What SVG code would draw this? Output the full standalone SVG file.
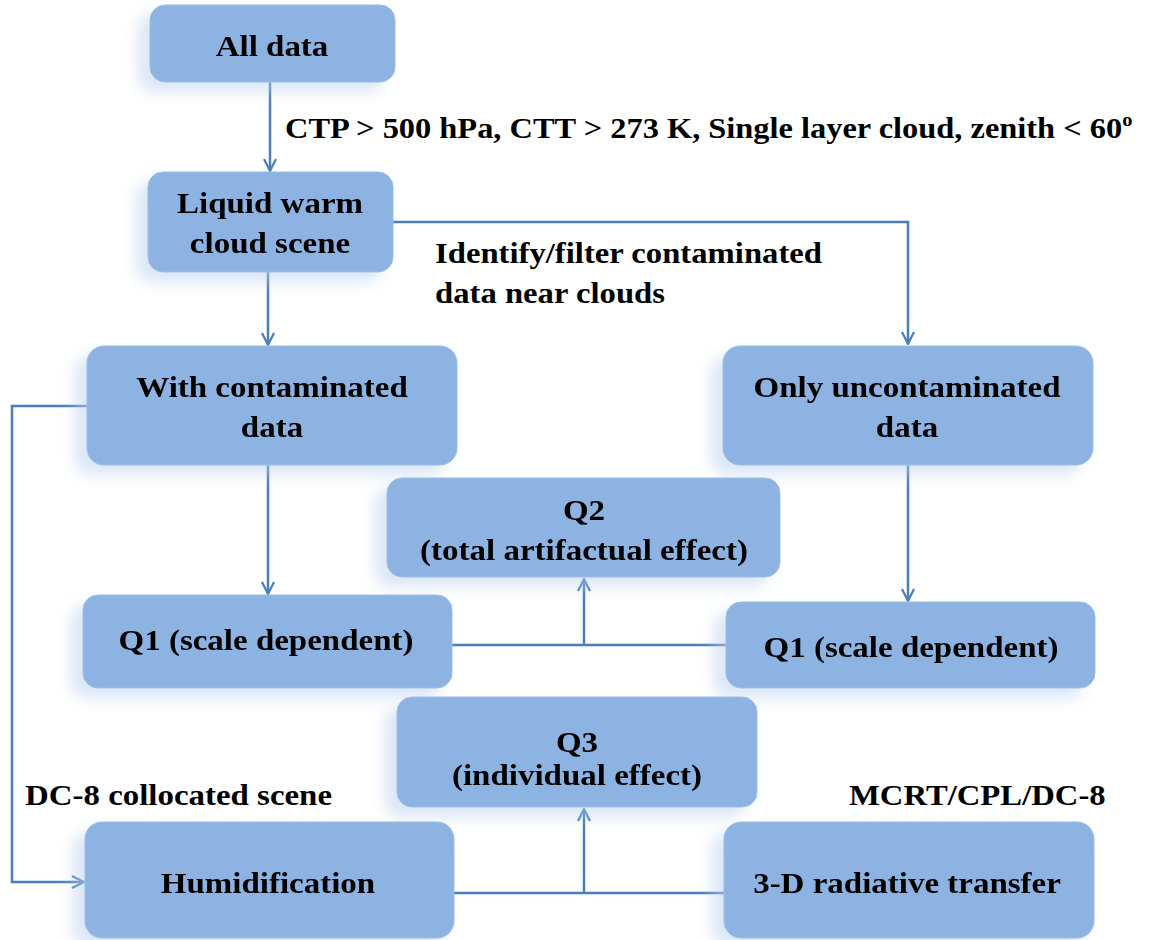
<svg xmlns="http://www.w3.org/2000/svg" width="1160" height="940" viewBox="0 0 1160 940">
<defs>
<style>
.box{fill:#8db3e2;stroke:#9bbde6;stroke-width:1}
.t{font-family:"Liberation Serif","Times New Roman",serif;font-weight:bold;font-size:30px;fill:#000;text-anchor:middle}
.l{font-family:"Liberation Serif","Times New Roman",serif;font-weight:bold;font-size:30px;fill:#000}
.c{fill:none;stroke:#4a7ebb;stroke-width:2.5}
</style>
<filter id="sh" x="-20%" y="-20%" width="140%" height="150%">
<feOffset in="SourceAlpha" dx="-12" dy="10" result="o"/>
<feGaussianBlur in="o" stdDeviation="7" result="b"/>
<feFlood flood-color="#b9cfee" flood-opacity="0.5"/>
<feComposite in2="b" operator="in" result="s"/>
<feMerge><feMergeNode in="s"/><feMergeNode in="SourceGraphic"/></feMerge>
</filter>
<marker id="ah" viewBox="0 0 14 14" refX="13" refY="7" markerWidth="14" markerHeight="14" markerUnits="userSpaceOnUse" orient="auto">
<path d="M1,1 L13,7 L1,13" fill="none" stroke="#4a7ebb" stroke-width="2.2"/>
</marker>
</defs>
<rect width="1160" height="940" fill="#fff"/>
<g id="connectors">
<line class="c" x1="270" y1="82" x2="270" y2="171" marker-end="url(#ah)"/>
<polyline class="c" points="392,222 908,222 908,344" marker-end="url(#ah)"/>
<line class="c" x1="268" y1="272" x2="268" y2="345" marker-end="url(#ah)"/>
<line class="c" x1="268" y1="465" x2="268" y2="594" marker-end="url(#ah)"/>
<line class="c" x1="908" y1="465" x2="908" y2="601" marker-end="url(#ah)"/>
<polyline class="c" points="87,406 12,406 12,882 84,882" marker-end="url(#ah)"/>
<line class="c" x1="452" y1="645" x2="726" y2="645"/>
<line class="c" x1="584" y1="645" x2="584" y2="579" marker-end="url(#ah)"/>
<line class="c" x1="454" y1="893" x2="724" y2="893"/>
<line class="c" x1="584" y1="893" x2="584" y2="809" marker-end="url(#ah)"/>
</g>
<g id="labels">
<text class="l" transform="translate(285,138) scale(1.08,1)">CTP &gt; 500 hPa, CTT &gt; 273 K, Single layer cloud, zenith &lt; 60<tspan font-size="19" dy="-12">o</tspan></text>
<text class="l" transform="translate(435,263) scale(1.09,1)">Identify/filter contaminated</text>
<text class="l" transform="translate(435,303) scale(1.09,1)">data near clouds</text>
<text class="l" x="25" y="805" textLength="307" lengthAdjust="spacingAndGlyphs">DC-8 collocated scene</text>
<text class="l" transform="translate(849,805) scale(1.09,1)">MCRT/CPL/DC-8</text>
</g>
<g id="n-all" filter="url(#sh)">
<rect class="box" x="150" y="5" width="245" height="77" rx="15"/>
<text class="t" transform="translate(272,56) scale(1.1,1)">All data</text>
</g>
<g id="n-liquid" filter="url(#sh)">
<rect class="box" x="148" y="172" width="245" height="100" rx="15"/>
<text class="t" transform="translate(270,213) scale(1.1,1)">Liquid warm</text>
<text class="t" transform="translate(270,253) scale(1.1,1)">cloud scene</text>
</g>
<g id="n-with" filter="url(#sh)">
<rect class="box" x="87" y="346" width="370" height="119" rx="17"/>
<text class="t" transform="translate(272,397) scale(1.1,1)">With contaminated</text>
<text class="t" transform="translate(272,437) scale(1.1,1)">data</text>
</g>
<g id="n-only" filter="url(#sh)">
<rect class="box" x="723" y="346" width="370" height="119" rx="17"/>
<text class="t" transform="translate(907,397) scale(1.1,1)">Only uncontaminated</text>
<text class="t" transform="translate(907,437) scale(1.1,1)">data</text>
</g>
<g id="n-q2" filter="url(#sh)">
<rect class="box" x="387" y="478" width="393" height="99" rx="15"/>
<text class="t" transform="translate(584,520) scale(1.1,1)">Q2</text>
<text class="t" transform="translate(584,560) scale(1.1,1)">(total artifactual effect)</text>
</g>
<g id="n-q1a" filter="url(#sh)">
<rect class="box" x="83" y="595" width="369" height="93" rx="15"/>
<text class="t" transform="translate(266,650) scale(1.1,1)">Q1 (scale dependent)</text>
</g>
<g id="n-q1b" filter="url(#sh)">
<rect class="box" x="726" y="602" width="369" height="86" rx="15"/>
<text class="t" transform="translate(911,657) scale(1.1,1)">Q1 (scale dependent)</text>
</g>
<g id="n-q3" filter="url(#sh)">
<rect class="box" x="397" y="697" width="360" height="110" rx="15"/>
<text class="t" transform="translate(577,752) scale(1.1,1)">Q3</text>
<text class="t" transform="translate(577,785) scale(1.1,1)">(individual effect)</text>
</g>
<g id="n-hum" filter="url(#sh)">
<rect class="box" x="85" y="822" width="369" height="116" rx="17"/>
<text class="t" transform="translate(268,893) scale(1.1,1)">Humidification</text>
</g>
<g id="n-3d" filter="url(#sh)">
<rect class="box" x="724" y="822" width="370" height="116" rx="17"/>
<text class="t" transform="translate(907,893) scale(1.1,1)">3-D radiative transfer</text>
</g>
</svg>
